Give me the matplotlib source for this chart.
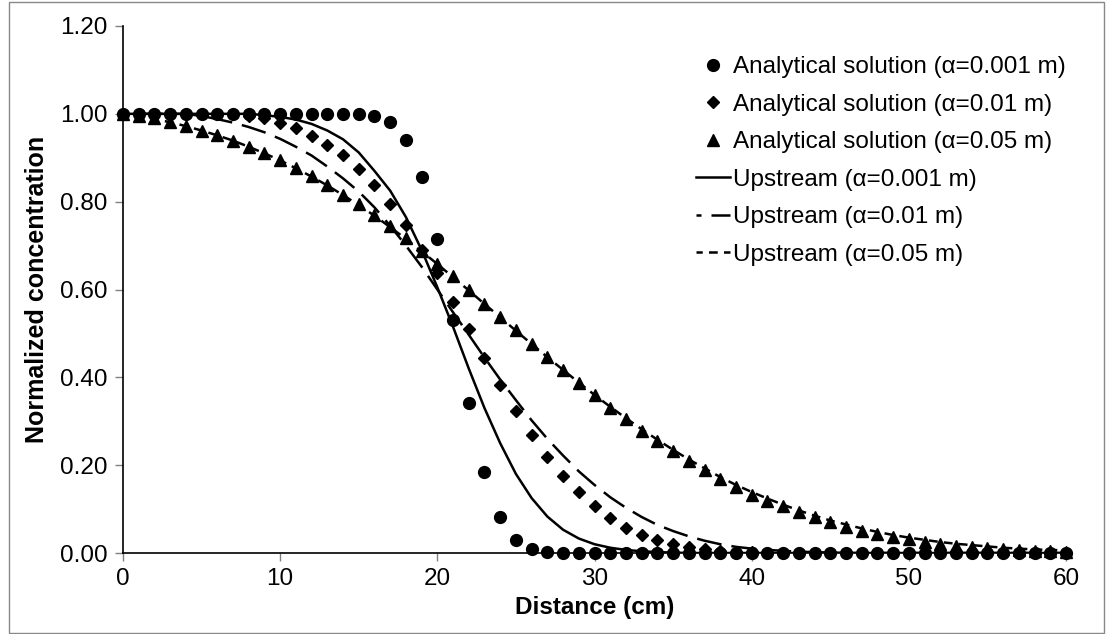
import numpy as np
import matplotlib
matplotlib.use('Agg')
import matplotlib.pyplot as plt
from matplotlib.patches import Rectangle

plt.rcParams['font.family'] = ['Liberation Sans', 'DejaVu Sans']

# distance along the column (cm), one marker every cm
distance = list(range(0, 61))

# analytical solutions
analytic_a001 = [1.0] * 15 + [0.999, 0.996, 0.981, 0.940, 0.856, 0.714, 0.531, 0.341, 0.185,
                              0.082, 0.030, 0.009, 0.002] + [0.0] * 33
analytic_a01 = [1.0] * 8 + [0.996, 0.99, 0.98, 0.967, 0.95, 0.93, 0.906, 0.875, 0.837, 0.795,
                            0.747, 0.690, 0.637, 0.572, 0.509, 0.443, 0.382, 0.324, 0.269, 0.218,
                            0.175, 0.138, 0.106, 0.080, 0.058, 0.042, 0.030, 0.020, 0.013, 0.008,
                            0.005, 0.003, 0.002, 0.001] + [0.0] * 19
analytic_a05 = [1.0, 0.995, 0.99, 0.982, 0.972, 0.962, 0.951, 0.939, 0.925, 0.91, 0.894, 0.877,
                0.858, 0.838, 0.816, 0.795, 0.77, 0.744, 0.717, 0.687, 0.658, 0.63, 0.598, 0.568,
                0.537, 0.507, 0.476, 0.446, 0.417, 0.388, 0.359, 0.331, 0.305, 0.278, 0.255,
                0.232, 0.209, 0.19, 0.169, 0.15, 0.133, 0.119, 0.106, 0.093, 0.082, 0.07, 0.06,
                0.051, 0.044, 0.037, 0.031, 0.025, 0.02, 0.016, 0.013, 0.011, 0.008, 0.007,
                0.005, 0.004, 0.003]

# upstream scheme results
upstream_a001 = [1.0] * 9 + [0.997, 0.993, 0.987, 0.977, 0.962, 0.942, 0.912, 0.87, 0.825, 0.765,
                             0.69, 0.605, 0.515, 0.42, 0.33, 0.25, 0.18, 0.125, 0.083, 0.053,
                             0.033, 0.02, 0.012, 0.007, 0.004, 0.002, 0.001] + [0.0] * 25
upstream_a01 = [1.0] * 5 + [0.995, 0.988, 0.98, 0.97, 0.958, 0.943, 0.925, 0.905, 0.88, 0.853,
                            0.823, 0.787, 0.745, 0.70, 0.652, 0.60, 0.548, 0.497, 0.445, 0.395,
                            0.348, 0.302, 0.26, 0.222, 0.186, 0.155, 0.127, 0.103, 0.082, 0.064,
                            0.05, 0.038, 0.028, 0.02, 0.014, 0.01, 0.007, 0.005, 0.003, 0.002,
                            0.001] + [0.0] * 15
upstream_a05 = [1.0, 0.993, 0.988, 0.981, 0.972, 0.962, 0.951, 0.939, 0.925, 0.91, 0.894, 0.876,
                0.857, 0.837, 0.815, 0.792, 0.768, 0.742, 0.715, 0.687, 0.658, 0.628, 0.598,
                0.567, 0.537, 0.506, 0.476, 0.446, 0.417, 0.388, 0.36, 0.333, 0.307, 0.282,
                0.258, 0.235, 0.213, 0.193, 0.173, 0.155, 0.139, 0.124, 0.11, 0.097, 0.085,
                0.074, 0.065, 0.056, 0.048, 0.041, 0.035, 0.03, 0.025, 0.021, 0.018, 0.015,
                0.012, 0.01, 0.008, 0.007, 0.006]

labels = ['Analytical solution (\u03b1=0.001 m)', 'Analytical solution (\u03b1=0.01 m)',
          'Analytical solution (\u03b1=0.05 m)', 'Upstream (\u03b1=0.001 m)',
          'Upstream (\u03b1=0.01 m)', 'Upstream (\u03b1=0.05 m)']

FS = 17.5

fig = plt.figure(figsize=(11.06, 6.34), dpi=100)
ax = fig.add_axes([123 / 1106, 1 - 553 / 634, (1066 - 123) / 1106, (553 - 26) / 634])

ax.plot(distance, analytic_a001, 'o', color='black', ms=8.5, clip_on=False, label=labels[0])
ax.plot(distance, analytic_a01, 'D', color='black', ms=6.5, clip_on=False, label=labels[1])
ax.plot(distance, analytic_a05, '^', color='black', ms=9, clip_on=False, label=labels[2])
ax.plot(distance, upstream_a001, '-', color='black', lw=1.8, label=labels[3])
ax.plot(distance, upstream_a01, color='black', lw=1.8, ls=(8, (10, 4)), label=labels[4])
ax.plot(distance, upstream_a05, color='black', lw=1.8, ls=(1, (3.5, 2.5)), label=labels[5])

ax.set_xlim(0, 60)
ax.set_ylim(0, 1.2)
ax.set_xticks(range(0, 61, 10))
ax.set_yticks(np.arange(0, 1.21, 0.2))
ax.set_yticklabels(['%.2f' % v for v in np.arange(0, 1.21, 0.2)])
ax.tick_params(labelsize=FS, length=6, width=1, color='#808080', direction='out', pad=5)
for s in ['top', 'right']:
    ax.spines[s].set_visible(False)
for s in ['left', 'bottom']:
    ax.spines[s].set_linewidth(1.2)

ax.set_xlabel('Distance (cm)', fontsize=FS, fontweight='bold', labelpad=4)
ax.set_ylabel('Normalized concentration', fontsize=18, fontweight='bold', labelpad=8)

ax.legend(loc='upper left', bbox_to_anchor=(696 / 1106, 1 - 56 / 634),
          bbox_transform=fig.transFigure, frameon=False, fontsize=FS,
          borderpad=0, borderaxespad=0, handlelength=1.4, handletextpad=0.12,
          labelspacing=0.64)

fig.patches.append(Rectangle((9 / 1106, 1 / 634), 1095 / 1106, 631 / 634, fill=False,
                             edgecolor='#888888', lw=1, transform=fig.transFigure))

fig.savefig('out.png', dpi=100)
